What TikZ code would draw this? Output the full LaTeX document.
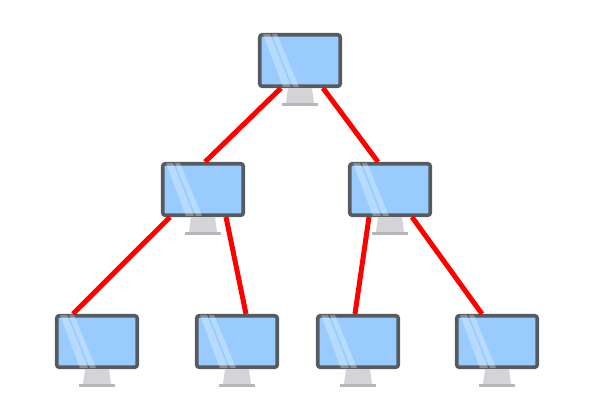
\documentclass[tikz,border=0pt]{standalone}
\definecolor{screenblue}{HTML}{99CBFF}
\definecolor{bezel}{HTML}{565B60}
\definecolor{standc}{HTML}{D4D4D8}
\definecolor{basec}{HTML}{B6B6BA}
\tikzset{
  monitor/.style={draw=bezel,fill=screenblue,line width=3.6pt,rounded corners=2.5pt,minimum width=80.5pt,minimum height=51.5pt,inner sep=0pt},
  glass/.style={fill=white,opacity=0.3,draw=none},
  standpart/.style={fill=standc,draw=none},
  basepart/.style={fill=basec,draw=none},
  wire/.style={draw=red,line width=5pt}
}
\newcommand{\monitorat}[3]{%
  \node[monitor] (#1) at (#2,#3) {};
  \fill[standpart] ([xshift=-12pt]#1.south) -- ([xshift=12pt]#1.south) -- ([xshift=14pt,yshift=-15pt]#1.south) -- ([xshift=-14pt,yshift=-15pt]#1.south) -- cycle;
  \fill[basepart] ([xshift=-18pt,yshift=-15pt]#1.south) rectangle ([xshift=18pt,yshift=-18pt]#1.south);
  \fill[glass] ([xshift=-37pt,yshift=-1pt]#1.north) -- ([xshift=-30pt,yshift=-1pt]#1.north) -- ([xshift=-9pt,yshift=1pt]#1.south) -- ([xshift=-17pt,yshift=1pt]#1.south) -- cycle;
  \fill[glass] ([xshift=-28pt,yshift=-1pt]#1.north) -- ([xshift=-23pt,yshift=-1pt]#1.north) -- ([xshift=-1pt,yshift=1pt]#1.south) -- ([xshift=-7pt,yshift=1pt]#1.south) -- cycle;
}
\begin{document}
\begin{tikzpicture}[x=1pt,y=-1pt]
\useasboundingbox[fill=white] (0,0) rectangle (600,410);
\monitorat{root}{300}{60.5}
\monitorat{midl}{203}{189.5}
\monitorat{midr}{390}{189.5}
\monitorat{leafa}{97}{341.5}
\monitorat{leafb}{237}{341.5}
\monitorat{leafc}{358}{341.5}
\monitorat{leafd}{497}{341.5}
\draw[wire] ([xshift=-19pt]root.south) -- ([xshift=2pt]midl.north);
\draw[wire] ([xshift=23pt]root.south) -- ([xshift=-12pt]midr.north);
\draw[wire] ([xshift=-33pt]midl.south) -- ([xshift=-24pt]leafa.north);
\draw[wire] ([xshift=23pt]midl.south) -- ([xshift=9pt]leafb.north);
\draw[wire] ([xshift=-21pt]midr.south) -- ([xshift=-3pt]leafc.north);
\draw[wire] ([xshift=22pt]midr.south) -- ([xshift=-15pt]leafd.north);
\end{tikzpicture}
\end{document}
